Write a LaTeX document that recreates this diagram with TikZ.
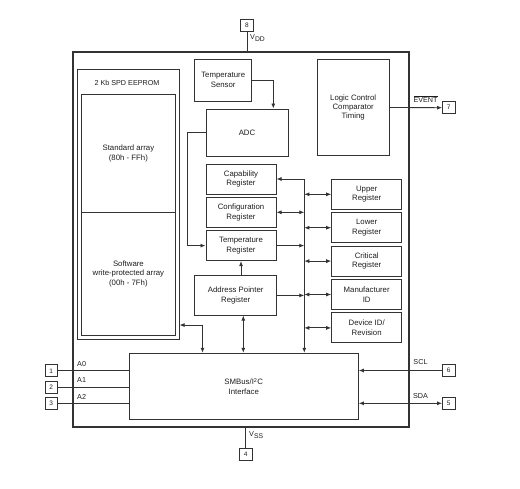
\documentclass[tikz,border=0pt]{standalone}
\usepackage{fontspec}
\setmainfont{Liberation Sans}
\usepackage{tikz}
\usetikzlibrary{arrows.meta, positioning, calc}
\definecolor{linegray}{RGB}{51, 51, 51}
\definecolor{textgray}{RGB}{30, 30, 30}
\newcommand{\pinsub}[1]{\raisebox{-2pt}{\fontsize{6.8}{7}\selectfont #1}}

\begin{document}
\begin{tikzpicture}[
    x=1pt, y=-1pt,
    font=\fontsize{7.8}{9.4}\selectfont, text=textgray,
    block/.style={draw=linegray, line width=1pt, align=center, inner sep=1pt},
    reg/.style={block, minimum width=70pt, minimum height=30pt},
    pin/.style={draw=linegray, line width=0.8pt, minimum width=12.5pt, 
                minimum height=12pt, inner sep=0pt, font=\fontsize{6.5}{7}\selectfont},
    wire/.style={draw=linegray, line width=0.85pt},
    arrow/.style={wire, -{Latex[length=5pt, width=4pt]}},
    dblarrow/.style={wire, {Latex[length=5pt, width=4pt]}-{Latex[length=5pt, width=4pt]}},
    lbl/.style={inner sep=0pt, font=\fontsize{7.2}{8}\selectfont}
]
    \useasboundingbox (0,0) rectangle (520,488);

    % chip outline
    \node[draw=linegray, line width=1.3pt, minimum width=336pt, minimum height=375pt] 
        (chip) at (241,239.5) {};

    % EEPROM
    \node[block, minimum width=101.7pt, minimum height=269.7pt] (eeprom) at (128.2,204.2) {};
    \node[lbl] (eetitle) at (127,83.3) {2 Kb SPD EEPROM};
    \node[block, minimum width=94.7pt, minimum height=118.4pt] (stdarr) at (128.4,153.5) 
        {Standard array\\(80h - FFh)};
    \node[block, minimum width=94.7pt, minimum height=122.3pt] (swarr) at (128.4,273.9) 
        {Software\\write-protected array\\(00h - 7Fh)};

    % sensor path
    \node[block, minimum width=57pt, minimum height=42pt] (tsens) at (223.2,80) 
        {Temperature\\Sensor};
    \node[block, minimum width=82pt, minimum height=47pt] (adc) at (247,132.5) {ADC};
    \node[block, minimum width=71.7pt, minimum height=96.4pt] (logic) at (353.2,107.5) 
        {Logic Control\\Comparator\\Timing};

    % internal registers
    \node[reg] (cap) at (241,179) {Capability\\Register};
    \node[reg, below=2.3pt of cap] (cfg) {Configuration\\Register};
    \node[reg, below=2.3pt of cfg] (treg) {Temperature\\Register};
    \node[block, minimum width=82pt, minimum height=39.3pt] (apr) at (235.7,295.4) 
        {Address Pointer\\Register};

    \node[reg] (upper) at (366.7,194.3) {Upper\\Register};
    \node[reg, below=2.4pt of upper] (lower) {Lower\\Register};
    \node[reg, below=2.4pt of lower] (critical) {Critical\\Register};
    \node[reg, below=2.4pt of critical] (manuf) {Manufacturer\\ID};
    \node[reg, below=2.4pt of manuf] (devid) {Device ID/\\Revision};

    % serial interface
    \node[block, minimum width=229pt, minimum height=66pt] (smbus) at (243.8,386.3) 
        {SMBus/I\textsuperscript{2}C\\Interface};

    % pins
    \node[pin] (pin8) at (247,25) {8};
    \node[pin] (pin7) at (448.7,107.7) {7};
    \node[pin] (pin6) at (448.7,370.5) {6};
    \node[pin] (pin5) at (448.7,403.3) {5};
    \node[pin] (pin1) at (51.3,370.8) {1};
    \node[pin] (pin2) at (51.3,387.2) {2};
    \node[pin] (pin3) at (51.3,403.5) {3};
    \node[pin] (pin4) at (245.8,454.7) {4};

    \coordinate (bus) at (304.3,179);

    \draw[wire] (pin8.south) -- (pin8.south |- chip.north);
    \draw[wire] (pin4.north) -- (pin4.north |- chip.south);
    \node[lbl, anchor=west] (vdd) at (250,38.5) {V\pinsub{DD}};
    \node[lbl, anchor=west] (vss) at (249,435.5) {V\pinsub{SS}};

    \draw[arrow] (tsens.east) -| ([xshift=26.3pt]adc.north);
    \draw[arrow] (adc.west) -- ++(-18pt,0) |- (treg.west);
    \draw[arrow] (treg.south |- apr.north) -- (treg.south);

    \draw[arrow] (bus) -- (cap.east);
    \draw[arrow] (bus) -- (bus |- smbus.north);
    \draw[dblarrow] (cfg.east) -- (bus |- cfg.east);
    \draw[arrow] (treg.east) -- (bus |- treg.east);
    \draw[arrow] (apr.east) -- (bus |- apr.east);
    \foreach \r in {upper, lower, critical, manuf, devid}
        \draw[dblarrow] (bus |- \r.west) -- (\r.west);

    \draw[dblarrow] ([xshift=7.6pt]apr.south) -- ([xshift=7.6pt]apr.south |- smbus.north);
    \draw[dblarrow] ([yshift=14.5pt]eeprom.south east) -| ([xshift=-41.3pt]smbus.north);

    \draw[arrow] (logic.east) -- (pin7.west);
    \node[lbl] (event) at (425.5,99.5) {$\overline{\hbox{EVENT}}$};

    \draw[arrow] (pin6.west) -- (smbus.east |- pin6.west);
    \node[lbl] (scl) at (420.5,362.3) {SCL};
    \draw[dblarrow] (smbus.east |- pin5.west) -- (pin5.west);
    \node[lbl] (sda) at (420.5,396) {SDA};

    \foreach \p/\a in {1/0, 2/1, 3/2} {
        \draw[wire] (pin\p.east) -- (smbus.west |- pin\p.east);
        \node[lbl, anchor=west] at ([yshift=7pt]pin\p.east -| 77,0) {A\a};
    }
\end{tikzpicture}
\end{document}
